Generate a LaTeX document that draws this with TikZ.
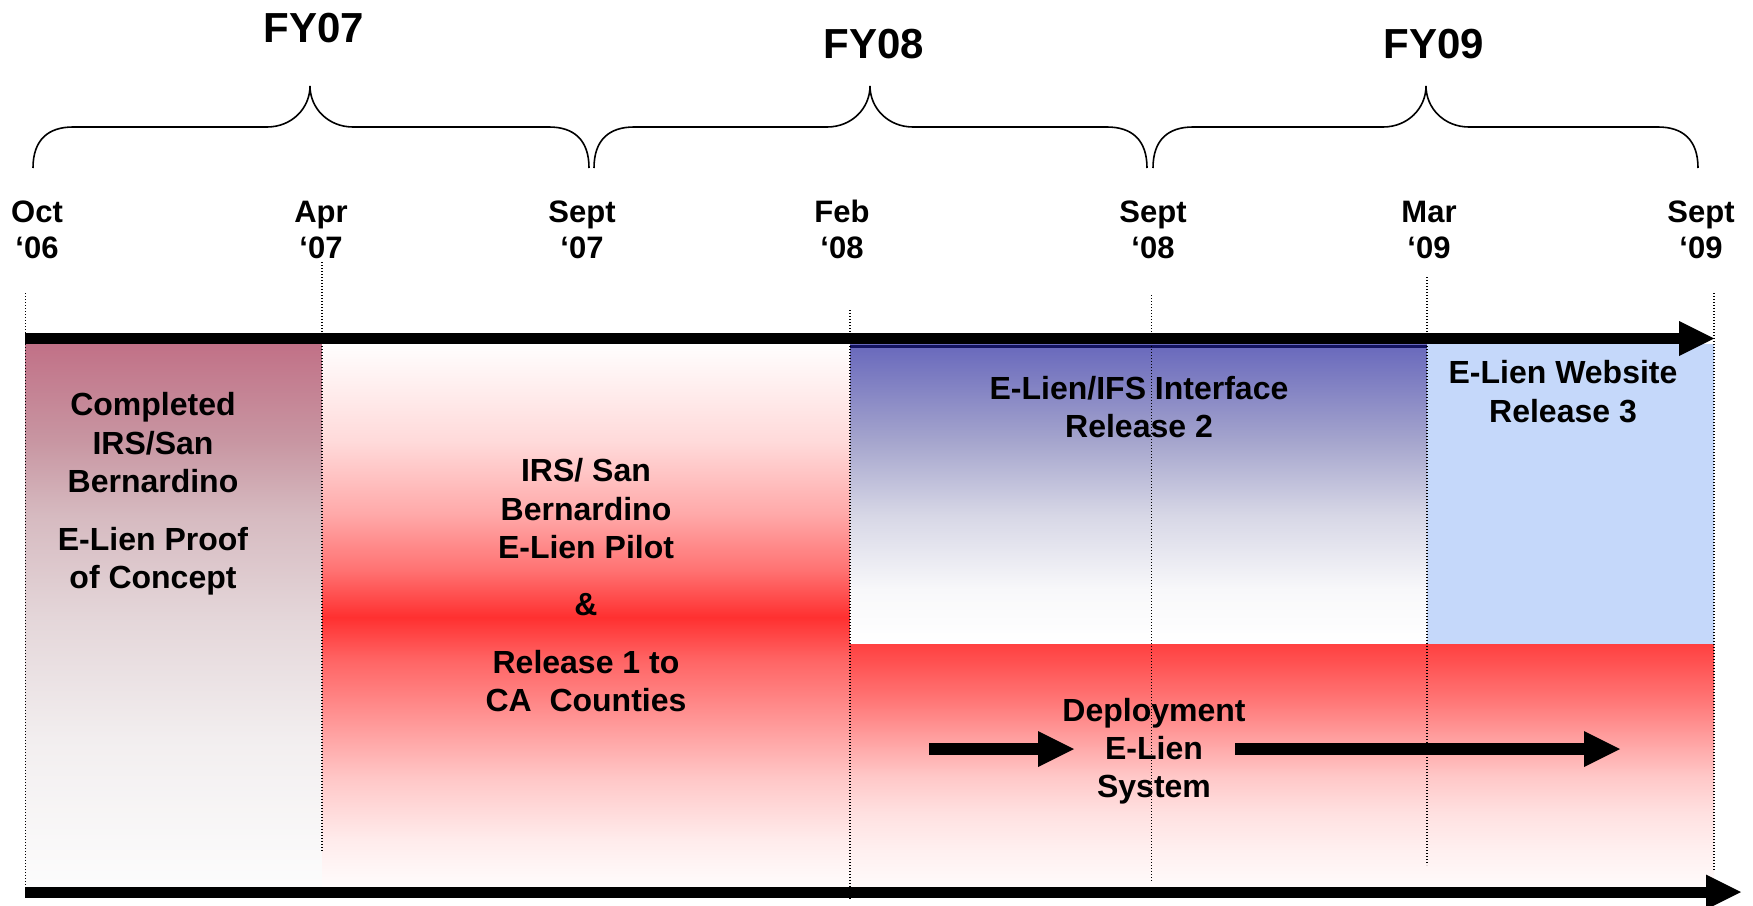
\documentclass[tikz,border=0pt]{standalone}
\usepackage{fontspec}
\setmainfont{Liberation Sans}
\usetikzlibrary{arrows.meta}

% colours
\definecolor{mrA}{RGB}{255,254,254}
\definecolor{mrB}{RGB}{255,218,218}
\definecolor{mrC}{RGB}{255,168,168}
\definecolor{mrD}{RGB}{255,112,112}
\definecolor{mrE}{RGB}{255,48,48}
\definecolor{mrF}{RGB}{255,100,100}
\definecolor{mrG}{RGB}{255,150,150}
\definecolor{mrH}{RGB}{255,200,200}
\definecolor{mrI}{RGB}{255,235,235}
\definecolor{mrJ}{RGB}{255,252,252}

\definecolor{roA}{RGB}{193,113,135}
\definecolor{roB}{RGB}{200,150,162}
\definecolor{roC}{RGB}{214,186,192}
\definecolor{roD}{RGB}{228,214,217}
\definecolor{roE}{RGB}{242,238,239}
\definecolor{roF}{RGB}{252,252,252}

\definecolor{blA}{RGB}{104,104,188}
\definecolor{blB}{RGB}{165,165,205}
\definecolor{blC}{RGB}{215,215,230}
\definecolor{blD}{RGB}{248,248,250}
\definecolor{blE}{RGB}{255,255,255}

\definecolor{dpA}{RGB}{255,64,64}
\definecolor{dpB}{RGB}{255,120,120}
\definecolor{dpC}{RGB}{255,160,160}
\definecolor{dpD}{RGB}{255,200,200}
\definecolor{dpE}{RGB}{255,225,225}
\definecolor{dpF}{RGB}{255,240,240}
\definecolor{dpG}{RGB}{255,250,250}

\definecolor{webblue}{RGB}{197,216,250}
\definecolor{navyedge}{RGB}{20,20,95}

\pgfdeclareverticalshading{midred}{100bp}{color(0bp)=(mrJ); color(25bp)=(mrJ); color(29.3bp)=(mrI); color(34.8bp)=(mrH); color(40.3bp)=(mrG); color(45.9bp)=(mrF); color(49.8bp)=(mrE); color(54bp)=(mrD); color(59.2bp)=(mrC); color(66bp)=(mrB); color(75bp)=(mrA); color(100bp)=(mrA)}
\pgfdeclareverticalshading{roseshade}{100bp}{color(0bp)=(roF); color(25bp)=(roF); color(38.6bp)=(roE); color(49.8bp)=(roD); color(59.2bp)=(roC); color(66bp)=(roB); color(75bp)=(roA); color(100bp)=(roA)}
\pgfdeclareverticalshading{blueshade}{100bp}{color(0bp)=(blE); color(25bp)=(blE); color(34bp)=(blD); color(46.4bp)=(blC); color(58.8bp)=(blB); color(75bp)=(blA); color(100bp)=(blA)}
\pgfdeclareverticalshading{deployshade}{100bp}{color(0bp)=(dpG); color(25bp)=(dpG); color(32.2bp)=(dpF); color(39.9bp)=(dpE); color(47.5bp)=(dpD); color(55.4bp)=(dpC); color(63bp)=(dpB); color(75bp)=(dpA); color(100bp)=(dpA)}

\newcommand\FYbrace[3]{%
  \draw[bracepen] (#1,168) .. controls (#1,140) and (#1+15,127) .. (#1+40,127)
    -- (#2-43,127) .. controls (#2-18,127) and (#2,108) .. (#2,86)
    .. controls (#2,108) and (#2+18,127) .. (#2+43,127)
    -- (#3-40,127) .. controls (#3-15,127) and (#3,140) .. (#3,168);}

\begin{document}
\begin{tikzpicture}[x=1pt,y=-1pt,
  monlbl/.style={font=\fontsize{31}{37}\selectfont\bfseries, anchor=base, inner sep=0pt},
  fylbl/.style={font=\fontsize{42}{50}\selectfont\bfseries, anchor=base, inner sep=0pt},
  blktxt/.style={font=\fontsize{32}{38}\selectfont\bfseries, anchor=base, inner sep=0pt},
  guideline/.style={line width=1.2pt, dash pattern=on 1.2pt off 1.8pt},
  bigarrow/.style={line width=11pt, -{Triangle[length=35pt,width=35pt,line width=0pt]}},
  deparrow/.style={line width=12pt, -{Triangle[length=36pt,width=36pt,line width=0pt]}},
  bracepen/.style={line width=1.6pt},
]
\useasboundingbox (0,0) rectangle (1753,905);
\fill[white] (0,0) rectangle (1753,905);

% ---- coloured phase blocks
\shade[shading=roseshade] (25.5,344) rectangle (322,886);
\shade[shading=midred] (322,344) rectangle (850,886);
\shade[shading=blueshade] (850,344) rectangle (1427,644);
\fill[webblue] (1427,344) rectangle (1714,644);
\shade[shading=deployshade] (850,644) rectangle (1714,886);
\draw[navyedge, line width=3pt] (850,346) -- (1427,346);

% ---- dotted guide lines
\draw[guideline] (25.5,293) -- (25.5,886);
\draw[guideline] (322,262) -- (322,852);
\draw[guideline] (850,310) -- (850,900);
\draw[guideline] (1151.5,295) -- (1151.5,882);
\draw[guideline] (1427,277) -- (1427,865);
\draw[guideline] (1714,293) -- (1714,870);

% ---- timeline arrows
\coordinate (topS) at (25,338.5);
\coordinate (topE) at (1714,338.5);
\draw[bigarrow] (topS) -- (topE);
\coordinate (botS) at (25,892);
\coordinate (botE) at (1741,892);
\draw[bigarrow] (botS) -- (botE);

% ---- fiscal year braces
\FYbrace{33}{310}{589}
\FYbrace{594}{870}{1147}
\FYbrace{1153}{1426}{1698}

\node[fylbl] (fy07) at (314,42) {FY07};
\node[fylbl] (fy08) at (874,58) {FY08};
\node[fylbl] (fy09) at (1434,58) {FY09};

% ---- month labels
\node[monlbl] (octA) at (37,222) {Oct};
\node[monlbl] (octB) at (37,258) {‘06};
\node[monlbl] (aprA) at (321,222) {Apr};
\node[monlbl] (aprB) at (321,258) {‘07};
\node[monlbl] (sepA) at (582,222) {Sept};
\node[monlbl] (sepB) at (582,258) {‘07};
\node[monlbl] (febA) at (842,222) {Feb};
\node[monlbl] (febB) at (842,258) {‘08};
\node[monlbl] (sepC) at (1153,222) {Sept};
\node[monlbl] (sepD) at (1153,258) {‘08};
\node[monlbl] (marA) at (1429,222) {Mar};
\node[monlbl] (marB) at (1429,258) {‘09};
\node[monlbl] (sepE) at (1701,222) {Sept};
\node[monlbl] (sepF) at (1701,258) {‘09};

% ---- block texts
\node[blktxt] (c1) at (153,415) {Completed};
\node[blktxt] (c2) at (153,454) {IRS/San};
\node[blktxt] (c3) at (153,492) {Bernardino};
\node[blktxt] (c4) at (153,550) {E-Lien Proof};
\node[blktxt] (c5) at (153,588) {of Concept};

\node[blktxt] (p1) at (586,481) {IRS/ San};
\node[blktxt] (p2) at (586,520) {Bernardino};
\node[blktxt] (p3) at (586,558) {E-Lien Pilot};
\node[blktxt] (p4) at (586,615) {\&};
\node[blktxt] (p5) at (586,673) {Release 1 to};
\node[blktxt] (p6) at (586,711) {CA\ \ Counties};

\node[blktxt] (i1) at (1139,399) {E-Lien/IFS Interface};
\node[blktxt] (i2) at (1139,437) {Release 2};

\node[blktxt] (w1) at (1563,383) {E-Lien Website};
\node[blktxt] (w2) at (1563,422) {Release 3};

\node[blktxt] (d1) at (1154,721) {Deployment};
\node[blktxt] (d2) at (1154,759) {E-Lien};
\node[blktxt] (d3) at (1154,797) {System};

% ---- deployment arrows
\coordinate (daS) at (929,749);
\coordinate (daE) at (1074,749);
\draw[deparrow] (daS) -- (daE);
\coordinate (dbS) at (1235,749);
\coordinate (dbE) at (1620,749);
\draw[deparrow] (dbS) -- (dbE);
\end{tikzpicture}
\end{document}
